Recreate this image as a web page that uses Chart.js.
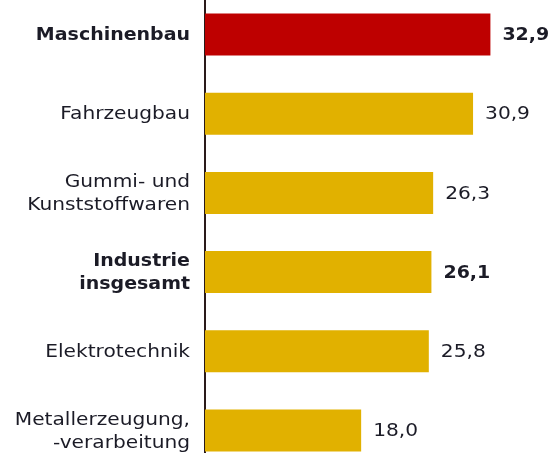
<!DOCTYPE html>
<html>
<head>
<meta charset="utf-8">
<script src="https://cdn.jsdelivr.net/npm/chart.js@4/dist/chart.umd.min.js"></script>
<style>
  html, body { margin: 0; padding: 0; background: #ffffff; }
  #frame { position: relative; width: 555px; height: 453px; overflow: hidden; background: #fff; }
  #wrap { position: absolute; left: 0; top: -5px; width: 555px; height: 475px; }
</style>
</head>
<body>
<div id="frame"><div id="wrap"><canvas id="c"></canvas></div></div>
<script>
// ---- data ----
const categories = [
  ["Maschinenbau"],
  ["Fahrzeugbau"],
  ["Gummi- und", "Kunststoffwaren"],
  ["Industrie", "insgesamt"],
  ["Elektrotechnik"],
  ["Metallerzeugung,", "-verarbeitung"]
];
const values = [32.9, 30.9, 26.3, 26.1, 25.8, 18.0];
const valueLabels = ["32,9", "30,9", "26,3", "26,1", "25,8", "18,0"];
const boldRows = [true, false, false, true, false, false];
const barColors = ["#BE0000", "#E1B100", "#E1B100", "#E1B100", "#E1B100", "#E1B100"];

const TEXT = "#1b1b26";
const FONT = '"DejaVu Sans", Verdana, sans-serif';

function drawStretched(ctx, text, x, y, bold, align) {
  const size = bold ? 17.5 : 18;
  const sx = bold ? 1.085 : 1.12;
  ctx.save();
  ctx.font = (bold ? "bold " : "") + size + "px " + FONT;
  ctx.fillStyle = TEXT;
  ctx.textAlign = align;
  ctx.textBaseline = "middle";
  ctx.scale(sx, 1);
  ctx.fillText(text, x / sx, y);
  ctx.restore();
}

const labelPlugin = {
  id: "labelPlugin",
  afterDatasetsDraw(chart) {
    const ctx = chart.ctx;
    const yScale = chart.scales.y;
    const meta = chart.getDatasetMeta(0);
    categories.forEach((lines, i) => {
      const yc = yScale.getPixelForValue(i);
      const lh = 23;
      const startY = yc - (lines.length - 1) * lh / 2 + 1;
      lines.forEach((t, k) => {
        drawStretched(ctx, t, 190, startY + k * lh, boldRows[i], "right");
      });
      const bar = meta.data[i];
      drawStretched(ctx, valueLabels[i], bar.x + 12, yc + 1, boldRows[i], "left");
    });
  }
};

new Chart(document.getElementById("c"), {
  type: "bar",
  data: {
    labels: categories.map(l => l.join(" ")),
    datasets: [{
      data: values,
      backgroundColor: barColors,
      borderWidth: 0,
      categoryPercentage: 1,
      barPercentage: 0.53
    }]
  },
  options: {
    indexAxis: "y",
    responsive: true,
    maintainAspectRatio: false,
    animation: false,
    events: [],
    layout: { padding: { left: 0, right: 3, top: 0, bottom: 0 } },
    plugins: { legend: { display: false }, tooltip: { enabled: false } },
    scales: {
      x: { display: false, min: 0, max: 40 },
      y: {
        display: true,
        grid: { display: false },
        ticks: { display: false },
        border: { display: true, color: "#2a1a1a", width: 2 },
        afterFit(scale) { scale.width = 205; }
      }
    }
  },
  plugins: [labelPlugin]
});
</script>
</body>
</html>
